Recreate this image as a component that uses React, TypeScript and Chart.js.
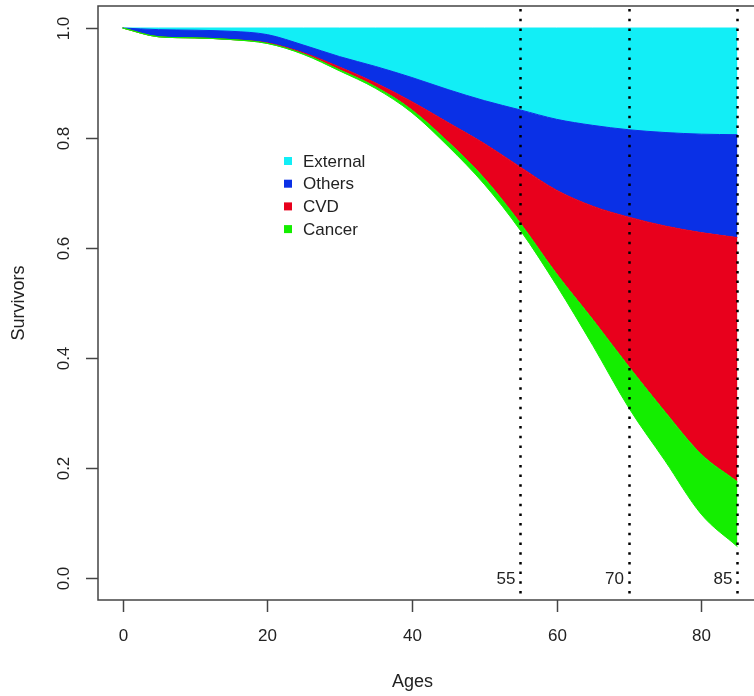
import React, { useEffect, useRef } from "react";
import { Chart, registerables } from "chart.js";

Chart.register(...registerables);

// Ages (years)
const ages = [0, 5, 10, 15, 20, 25, 30, 35, 40, 45, 50, 55, 60, 65, 70, 75, 80, 85];
// Cumulative boundaries (proportion of cohort)
const survival = [1, 0.984, 0.982, 0.979, 0.972, 0.952, 0.922, 0.89, 0.846, 0.785, 0.716, 0.632, 0.532, 0.423, 0.309, 0.213, 0.116, 0.057];
const cancerTop = [1, 0.984, 0.982, 0.979, 0.972, 0.953, 0.924, 0.893, 0.851, 0.793, 0.727, 0.645, 0.553, 0.47, 0.384, 0.302, 0.225, 0.175];
const cvdTop = [1, 0.984, 0.982, 0.979, 0.973, 0.955, 0.929, 0.9, 0.866, 0.828, 0.79, 0.747, 0.705, 0.676, 0.656, 0.64, 0.628, 0.619];
const othersTop = [1, 0.997, 0.996, 0.994, 0.988, 0.969, 0.948, 0.93, 0.91, 0.888, 0.868, 0.851, 0.834, 0.823, 0.815, 0.81, 0.807, 0.806];
const externalTop = [1, 1, 1, 1, 1, 1, 1, 1, 1, 1, 1, 1, 1, 1, 1, 1, 1, 1];

const legendLabels = ["External", "Others", "CVD", "Cancer"];
const markerAges = [55, 70, 85];
const xTicks = [0, 20, 40, 60, 80];
const yTicks = [0, 0.2, 0.4, 0.6, 0.8, 1.0];

const COLORS = {
  External: "#12eef6",
  Others: "#0a30e6",
  CVD: "#e8001c",
  Cancer: "#14ee00",
};

const FONT = '"Liberation Sans", Arial, Helvetica, sans-serif';

export default function App() {
  const ref = useRef<HTMLCanvasElement | null>(null);

  useEffect(() => {
    const canvas = ref.current;
    if (!canvas) return;
    const pts = (arr: number[]) => ages.map((a, i) => ({ x: a, y: arr[i] }));

    const decorPlugin = {
      id: "decor",
      afterDatasetsDraw(chart: any) {
        const ctx = chart.ctx;
        const xs = chart.scales.x;
        const ys = chart.scales.y;
        const area = chart.chartArea;
        // dotted vertical lines
        ctx.save();
        ctx.strokeStyle = "#000";
        ctx.lineWidth = 2.5;
        ctx.setLineDash([2.5, 7.2]);
        markerAges.forEach((a) => {
          const px = Math.round(xs.getPixelForValue(a)) + 0.5;
          ctx.beginPath();
          ctx.moveTo(px, area.top + 3);
          ctx.lineTo(px, area.bottom);
          ctx.stroke();
        });
        ctx.setLineDash([]);
        ctx.fillStyle = "#222";
        ctx.font = `17px ${FONT}`;
        ctx.textAlign = "right";
        ctx.textBaseline = "middle";
        markerAges.forEach((a) => {
          const px = xs.getPixelForValue(a);
          ctx.fillText(String(a), px - 5, ys.getPixelForValue(0) + 1);
        });
        ctx.restore();

        // legend
        ctx.save();
        const lx = 288;
        const ly0 = 161;
        const dy = 22.7;
        ctx.font = `17px ${FONT}`;
        ctx.textAlign = "left";
        ctx.textBaseline = "middle";
        legendLabels.forEach((lab, i) => {
          const y = ly0 + i * dy;
          ctx.fillStyle = (COLORS as any)[lab];
          ctx.fillRect(lx - 4, y - 4, 8, 8);
          ctx.fillStyle = "#222";
          ctx.fillText(lab, lx + 15, y + 1);
        });
        ctx.restore();
      },
      afterDraw(chart: any) {
        const ctx = chart.ctx;
        const xs = chart.scales.x;
        const ys = chart.scales.y;
        const area = chart.chartArea;
        ctx.save();
        ctx.strokeStyle = "#444";
        ctx.lineWidth = 1.5;
        ctx.strokeRect(area.left, area.top, area.right - area.left, area.bottom - area.top);
        ctx.fillStyle = "#222";
        ctx.font = `17px ${FONT}`;
        // x ticks
        ctx.textAlign = "center";
        ctx.textBaseline = "middle";
        xTicks.forEach((t) => {
          const px = Math.round(xs.getPixelForValue(t)) + 0.5;
          ctx.beginPath();
          ctx.moveTo(px, area.bottom);
          ctx.lineTo(px, area.bottom + 12);
          ctx.stroke();
          ctx.fillText(String(t), px, area.bottom + 36);
        });
        // y ticks
        yTicks.forEach((t) => {
          const py = Math.round(ys.getPixelForValue(t)) + 0.5;
          ctx.beginPath();
          ctx.moveTo(area.left, py);
          ctx.lineTo(area.left - 12, py);
          ctx.stroke();
          ctx.save();
          ctx.translate(area.left - 34, py);
          ctx.rotate(-Math.PI / 2);
          ctx.fillText(t.toFixed(1), 0, 0);
          ctx.restore();
        });
        // titles
        ctx.font = `18px ${FONT}`;
        ctx.fillText("Ages", (xs.getPixelForValue(40) + 0.5), area.bottom + 82);
        ctx.save();
        ctx.translate(19, (area.top + area.bottom) / 2);
        ctx.rotate(-Math.PI / 2);
        ctx.fillText("Survivors", 0, 0);
        ctx.restore();
        ctx.restore();
      },
    };

    const common = {
      pointRadius: 0,
      borderWidth: 1,
      cubicInterpolationMode: "monotone" as const,
    };

    const chart = new Chart(canvas, {
      type: "line",
      data: {
        datasets: [
          { ...common, label: "Survival", data: pts(survival), borderColor: COLORS.Cancer, fill: false },
          { ...common, label: "Cancer", data: pts(cancerTop), borderColor: COLORS.Cancer, backgroundColor: COLORS.Cancer, fill: "-1" },
          { ...common, label: "CVD", data: pts(cvdTop), borderColor: COLORS.CVD, backgroundColor: COLORS.CVD, fill: "-1" },
          { ...common, label: "Others", data: pts(othersTop), borderColor: COLORS.Others, backgroundColor: COLORS.Others, fill: "-1" },
          { ...common, label: "External", data: pts(externalTop), borderColor: COLORS.External, backgroundColor: COLORS.External, fill: "-1" },
        ],
      },
      options: {
        animation: false,
        responsive: false,
        devicePixelRatio: 1,
        layout: { padding: { left: 98, right: 8, top: 6, bottom: 96 } },
        plugins: { legend: { display: false }, tooltip: { enabled: false }, filler: { propagate: false } },
        scales: {
          x: { type: "linear", min: -3.4, max: 88.4, display: false },
          y: { type: "linear", min: -0.04, max: 1.04, display: false },
        },
      },
      plugins: [decorPlugin],
    });
    return () => chart.destroy();
  }, []);

  return (
    <div style={{ position: "fixed", left: 0, top: 0, width: 754, height: 696, overflow: "hidden", background: "#fff" }}>
      <canvas ref={ref} width={770} height={696} style={{ width: 770, height: 696, display: "block" }} />
    </div>
  );
}
